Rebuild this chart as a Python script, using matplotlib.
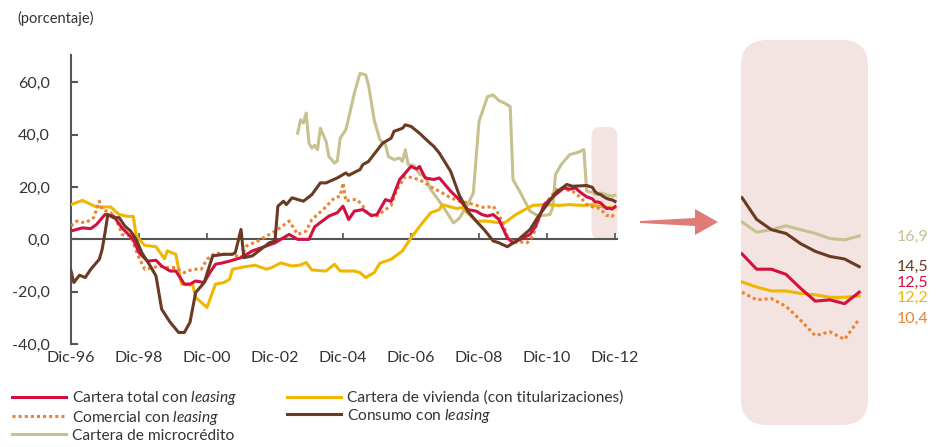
import numpy as np
import matplotlib.pyplot as plt
from matplotlib.patches import FancyBboxPatch, Polygon
from matplotlib.transforms import IdentityTransform
from matplotlib.ticker import FuncFormatter
from matplotlib.lines import Line2D

plt.rcParams['font.family'] = ['Lato', 'DejaVu Sans']
plt.rcParams['mathtext.fontset'] = 'custom'
plt.rcParams['mathtext.rm'] = 'Lato'
plt.rcParams['mathtext.it'] = 'Lato:italic'

# meses desde Dic-96, variacion anual (%)
meses_total = [0, 4, 7, 9, 12, 15, 18, 22, 24, 27, 30, 32, 35, 37, 40, 42, 44, 47, 49, 51,
               53, 56, 60, 64, 69, 72, 77, 80, 84, 86, 91, 94, 96, 98, 100, 103, 106, 108, 111, 113,
               116, 120, 122, 123, 125, 128, 130, 134, 137, 140, 143, 145, 147, 149, 151, 154, 156, 158, 162, 164,
               167, 171, 174, 176, 178, 180, 182, 184, 185, 186, 187, 188, 189, 190, 191, 192]
total = [3.2, 4.4, 4.1, 5.7, 9.5, 8.9, 4.4, 0.0, -5.1, -8.3, -8.0, -10.2, -12.1, -12.1, -17.1, -17.1, -15.9, -16.5, -12.7, -9.5,
         -9.1, -8.3, -7.0, -4.4, -2.5, -1.3, 1.9, 0.0, 0.0, 4.8, 8.9, 10.2, 12.7, 7.6, 10.8, 11.4, 9.1, 9.5, 15.2, 14.5,
         22.9, 27.9, 26.9, 27.9, 23.5, 22.9, 23.5, 18.4, 15.2, 11.4, 10.8, 9.5, 8.9, 9.5, 7.6, 0.6, -1.3, -0.3, 1.9, 5.1,
         13.3, 17.1, 19.7, 19.2, 19.7, 17.8, 16.3, 15.5, 14.3, 14.3, 13.9, 12.8, 11.8, 11.9, 11.6, 12.5]

meses_com = [0, 2, 5, 8, 10, 11, 14, 16, 18, 21, 24, 26, 28, 31, 34, 37, 40, 43, 46, 48,
             51, 54, 57, 60, 62, 66, 70, 73, 77, 80, 83, 85, 89, 93, 95, 96, 97, 99, 101, 103,
             105, 108, 111, 113, 115, 118, 121, 124, 127, 130, 134, 137, 140, 144, 146, 149, 151, 154, 156, 159,
             161, 163, 165, 167, 170, 172, 177, 180, 182, 184, 185, 186, 187, 188, 189, 190, 191, 192]
comercial = [5.1, 7.0, 6.3, 8.3, 14.6, 11.4, 10.2, 7.6, 1.9, 1.3, -7.0, -11.4, -11.0, -10.2, -10.8, -10.8, -12.7, -11.4, -11.4, -7.6,
             -5.1, -5.7, -5.7, -7.0, -2.5, -0.6, 1.9, 3.8, 7.0, 1.9, 3.2, 7.6, 11.4, 15.9, 16.5, 21.6, 14.6, 15.2, 15.2, 12.7,
             9.5, 8.9, 11.4, 13.0, 19.0, 24.1, 23.5, 22.2, 20.1, 18.4, 15.9, 14.6, 14.0, 12.7, 12.1, 12.7, 9.5, 1.3, -1.3, -1.0,
             -1.3, 1.3, 7.6, 13.3, 17.1, 19.7, 18.4, 15.9, 13.3, 12.5, 11.9, 12.0, 11.4, 10.3, 9.1, 9.4, 8.8, 10.4]

meses_viv = [0, 4, 9, 14, 17, 20, 22, 23, 26, 30, 33, 34, 37, 39, 43, 44, 48, 51, 54, 56,
             57, 61, 65, 69, 71, 74, 78, 81, 83, 85, 90, 93, 95, 100, 102, 104, 107, 109, 113, 117,
             120, 124, 127, 130, 131, 136, 138, 140, 143, 147, 150, 153, 157, 163, 168, 172, 176, 180, 182, 184,
             185, 186, 187, 188, 189, 190, 191, 192]
vivienda = [13.3, 14.9, 12.4, 12.4, 9.5, 8.8, 8.8, 1.3, -2.3, -2.8, -7.4, -4.4, -5.7, -17.1, -17.5, -22.2, -26.0, -17.1, -16.5, -15.2,
            -11.4, -10.5, -9.9, -11.4, -10.7, -9.0, -10.2, -9.8, -8.8, -11.7, -12.1, -9.5, -12.1, -12.1, -12.7, -14.6, -12.7, -9.1, -7.6, -4.4,
            0.6, 6.3, 10.2, 11.4, 13.3, 11.8, 12.2, 10.0, 7.0, 7.0, 6.5, 6.3, 9.5, 13.0, 13.3, 13.0, 13.3, 13.0, 13.1, 13.3,
            12.9, 12.6, 12.6, 12.4, 12.3, 12.1, 12.1, 12.2]

meses_con = [0, 1, 3, 5, 7, 10, 11, 12, 13, 15, 17, 19, 21, 23, 25, 28, 30, 32, 35, 38,
             40, 42, 44, 46, 47, 50, 54, 57, 58, 60, 61, 64, 67, 70, 72, 73, 75, 76, 78, 82,
             85, 88, 90, 94, 97, 98, 102, 103, 105, 110, 113, 114, 117, 118, 120, 123, 126, 128, 130, 134,
             137, 140, 143, 146, 149, 151, 154, 158, 162, 165, 168, 171, 175, 177, 182, 184,
             185, 186, 187, 188, 189, 190, 191, 192]
consumo = [-12.1, -16.5, -13.7, -14.6, -11.4, -7.6, -3.8, 2.5, 9.5, 8.3, 8.3, 5.1, 3.2, 0.0, -5.1, -10.2, -14.0, -26.7, -31.7, -35.6,
           -35.6, -31.7, -20.3, -17.8, -16.5, -6.3, -5.7, -5.7, -5.0, 3.8, -7.0, -6.3, -3.8, -1.3, -0.6, 12.7, 14.6, 13.3, 15.9, 14.6,
           17.1, 21.6, 21.6, 23.5, 25.4, 24.5, 26.7, 28.6, 29.8, 36.8, 38.7, 41.3, 42.5, 43.8, 43.2, 40.6, 37.5, 35.6, 33.0, 26.0,
           17.0, 10.8, 7.0, 3.5, -0.6, -1.3, -2.8, 0.0, 3.8, 8.9, 13.3, 17.8, 21.0, 20.3, 20.6, 19.9,
           18.2, 17.4, 17.1, 16.3, 15.7, 15.3, 15.1, 14.5]

meses_micro = [80, 81, 82, 83, 84, 85, 86, 87, 88, 90, 91, 93, 94, 95, 97, 98, 100, 102, 104, 105,
               107, 109, 111, 112, 114, 116, 117, 118, 119, 121, 123, 125, 127, 130, 132, 135, 137, 140, 142, 144,
               147, 149, 151, 153, 155, 156, 159, 162, 165, 169, 170, 171, 173, 176, 179, 181, 182, 184,
               185, 186, 187, 188, 189, 190, 191, 192]
micro = [40.6, 45.7, 44.5, 48.3, 36.8, 34.9, 36.0, 34.3, 42.5, 37.5, 31.7, 29.2, 30.0, 38.7, 41.9, 46.4, 55.9, 63.5, 62.9, 59.0,
         45.7, 38.1, 36.2, 31.7, 30.5, 31.1, 29.8, 34.3, 28.6, 28.3, 25.0, 24.1, 19.0, 14.6, 11.4, 6.3, 8.0, 13.3, 17.8, 45.1,
         54.6, 55.2, 53.1, 52.1, 50.8, 22.9, 17.1, 10.8, 8.9, 9.5, 12.1, 24.8, 28.6, 32.4, 33.3, 34.3, 18.4, 18.0,
         17.2, 17.4, 17.7, 17.4, 17.1, 16.7, 16.6, 16.9]

xtick_meses = [0, 24, 48, 72, 96, 120, 144, 168, 192]
xtick_labels = ['Dic-96', 'Dic-98', 'Dic-00', 'Dic-02', 'Dic-04', 'Dic-06', 'Dic-08', 'Dic-10', 'Dic-12']
yticks = [-40, -20, 0, 20, 40, 60]
inicio_zoom = 184  # ultimos 9 meses ampliados a la derecha

c_total = '#d3103f'
c_com = '#ec8233'
c_micro = '#c6c18e'
c_viv = '#f1b700'
c_con = '#6a3a22'
c_rosa = '#f4e4e1'
c_eje = '#555555'
c_texto = '#333333'

W, H = 939, 447
fig = plt.figure(figsize=(W / 100, H / 100), dpi=100)

# panel principal
ax = fig.add_axes([71 / W, 1 - 344 / H, (617 - 71) / W, (344 - 55) / H])
ax.set_xlim(0, 192.7)
ax.set_ylim(-40, 70.5)

series = [
    (meses_micro, micro, c_micro, '-', 'Cartera de microcrédito'),
    (meses_viv, vivienda, c_viv, '-', 'Cartera de vivienda (con titularizaciones)'),
    (meses_com, comercial, c_com, (0, (1, 1)), r'Comercial con $\it{leasing}$'),
    (meses_total, total, c_total, '-', r'Cartera total con $\it{leasing}$'),
    (meses_con, consumo, c_con, '-', r'Consumo con $\it{leasing}$'),
]
for m, v, c, ls, lab in series:
    ax.plot(m, v, color=c, lw=2.2, ls=ls, zorder=3)

for s in ['top', 'right']:
    ax.spines[s].set_visible(False)
ax.spines['left'].set_color(c_eje)
ax.spines['left'].set_linewidth(1.5)
ax.spines['bottom'].set_position(('data', 0))
ax.spines['bottom'].set_color(c_eje)
ax.spines['bottom'].set_linewidth(1.5)

ax.set_yticks(yticks)
ax.yaxis.set_major_formatter(FuncFormatter(lambda v, p: f'{v:.1f}'.replace('.', ',')))
ax.tick_params(axis='y', direction='in', length=5, width=1.5, color=c_eje, pad=15,
               labelsize=11.5, labelcolor=c_texto)
ax.set_xticks(xtick_meses)
ax.tick_params(axis='x', direction='in', length=4, width=1.2, color=c_eje, labelbottom=False)

sec = ax.secondary_xaxis(0)
sec.set_xticks(xtick_meses, labels=xtick_labels)
sec.tick_params(length=0, pad=5, labelsize=11.5, labelcolor=c_texto)
sec.spines['bottom'].set_visible(False)

# resaltado de los ultimos meses
x0, y0 = ax.transData.transform((inicio_zoom - 0.3, 0))
x1, y1 = ax.transData.transform((192.8, 43))
ax.add_patch(FancyBboxPatch((x0, y0), x1 - x0, y1 - y0,
                            boxstyle='round,pad=0,rounding_size=9',
                            transform=IdentityTransform(), facecolor=c_rosa,
                            edgecolor='none', zorder=1, clip_on=False))

# flecha
flecha = Polygon([(640, H - 221), (695, H - 218), (695, H - 209), (718, H - 222),
                  (695, H - 235), (695, H - 226), (640, H - 223)],
                 closed=True, transform=IdentityTransform(), facecolor='#e07b78',
                 edgecolor='none')
fig.patches.append(flecha)

# panel ampliado
ax2 = fig.add_axes([741 / W, 1 - 425 / H, 127 / W, 385 / H])
ax2.axis('off')
ax2.set_xlim(inicio_zoom - 0.07, 192.6)
ax2.set_ylim(2.1, 32.25)
ax2.add_patch(FancyBboxPatch((741, H - 425), 127, 385,
                             boxstyle='round,pad=0,rounding_size=26',
                             transform=IdentityTransform(), facecolor=c_rosa,
                             edgecolor='none', zorder=0, clip_on=False))
for m, v, c, ls, lab in series:
    m = np.array(m)
    v = np.array(v)
    sel = m >= inicio_zoom
    ax2.plot(m[sel], v[sel], color=c, lw=2.2, ls=ls, zorder=3)

etiquetas = ['16,9', '14,5', '12,5', '12,2', '10,4']
etiq_colores = [c_micro, c_con, c_total, c_viv, c_com]
etiq_y = [237, 267, 283, 298, 319]
for t, c, yy in zip(etiquetas, etiq_colores, etiq_y):
    fig.text(897 / W, 1 - yy / H, t, color=c, fontsize=11.5, va='center', ha='left')

fig.text(17 / W, 1 - 18 / H, '(porcentaje)', color=c_texto, fontsize=10.5, va='center', ha='left')

# leyenda
orden = [3, 2, 0, 1, 4]
handles = [Line2D([], [], color=series[i][2], lw=2.2, ls=series[i][3]) for i in orden]
labels = [series[i][4] for i in orden]
fig.legend(handles, labels, loc='upper left', bbox_to_anchor=(12 / W, 1 - 389 / H),
           ncol=2, frameon=False, fontsize=11.2, handlelength=3.5, handletextpad=0.35,
           columnspacing=3.2, labelspacing=0.12, borderpad=0, borderaxespad=0,
           labelcolor=c_texto)

fig.savefig('out.png', dpi=100)
